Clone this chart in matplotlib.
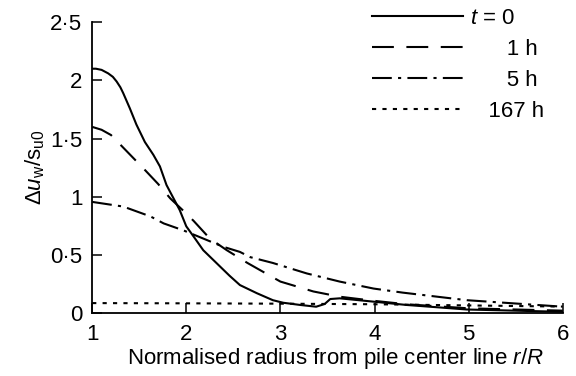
import numpy as np
import matplotlib.pyplot as plt
from matplotlib.ticker import FuncFormatter

plt.rcParams['font.family'] = ['Liberation Sans', 'DejaVu Sans']
plt.rcParams['mathtext.fontset'] = 'custom'
plt.rcParams['mathtext.rm'] = 'Liberation Sans'
plt.rcParams['mathtext.it'] = 'Liberation Sans:italic'

# values
r_t0 = [1.0, 1.04, 1.10, 1.17, 1.22, 1.26, 1.30, 1.33, 1.40, 1.47, 1.56, 1.65, 1.72, 1.79, 1.93, 2.0, 2.08, 2.18,
        2.32, 2.46, 2.57, 2.75, 2.92, 3.03, 3.21, 3.38, 3.47, 3.53, 3.63, 3.92, 4.34, 4.98, 6.0]
u_t0 = [2.10, 2.10, 2.09, 2.06, 2.03, 1.99, 1.94, 1.89, 1.76, 1.62, 1.47, 1.36, 1.26, 1.10, 0.885, 0.745, 0.655, 0.54,
        0.43, 0.32, 0.24, 0.17, 0.11, 0.088, 0.069, 0.054, 0.077, 0.12, 0.126, 0.103, 0.069, 0.03, 0.01]

r_1h = [1.0, 1.1, 1.2, 1.38, 1.56, 1.70, 1.83, 2.0, 2.08, 2.25, 2.43, 2.65, 2.89, 3.0, 3.35, 3.63, 3.99, 4.34, 5.0, 6.0]
u_1h = [1.60, 1.575, 1.53, 1.38, 1.23, 1.11, 0.985, 0.855, 0.79, 0.64, 0.54, 0.43, 0.32, 0.27, 0.185, 0.14, 0.105, 0.075, 0.04, 0.02]

r_5h = [1.0, 1.33, 1.62, 1.76, 1.97, 2.18, 2.39, 2.57, 2.68, 2.92, 3.28, 3.63, 3.99, 4.3, 4.98, 6.0]
u_5h = [0.955, 0.915, 0.83, 0.77, 0.71, 0.64, 0.57, 0.525, 0.48, 0.43, 0.34, 0.27, 0.21, 0.175, 0.11, 0.054]

r_167h = [1.0, 2.0, 3.0, 4.0, 5.0, 6.0]
u_167h = [0.085, 0.083, 0.08, 0.075, 0.065, 0.055]

labels = ['$t$ = 0', '      1 h', '      5 h', '   167 h']

fig = plt.figure(figsize=(5.76, 3.76), dpi=100)
ax = fig.add_axes([0.160, 0.1676, 0.817, 0.7734])

lw = 1.5
ax.plot(r_t0, u_t0, color='black', lw=lw, label=labels[0])
ax.plot(r_1h, u_1h, color='black', lw=lw, dashes=(10.5, 6), label=labels[1])
ax.plot(r_5h, u_5h, color='black', lw=lw, dashes=(9.5, 3, 1.5, 3), label=labels[2])
ax.plot(r_167h, u_167h, color='black', lw=lw, dashes=(2, 3), label=labels[3])

ax.set_xlim(1, 6)
ax.set_ylim(0, 2.5)
ax.set_xticks([1, 2, 3, 4, 5, 6])
ax.set_yticks([0, 0.5, 1, 1.5, 2, 2.5])
ax.yaxis.set_major_formatter(FuncFormatter(lambda v, p: ('%g' % v).replace('.', '\u00b7')))

for s in ['top', 'right']:
    ax.spines[s].set_visible(False)
for s in ['left', 'bottom']:
    ax.spines[s].set_linewidth(1.3)

ax.tick_params(axis='both', direction='in', length=7, width=1.1, labelsize=16)
ax.tick_params(axis='x', pad=8)
ax.tick_params(axis='y', pad=7)

ax.set_xlabel('Normalised radius from pile center line $r/R$', fontsize=16, labelpad=3)
ax.xaxis.set_label_coords(0.517, -0.115)
ax.set_ylabel(r'$\Delta \mathit{u}_{\mathrm{w}}/\mathrm{s}_{\mathrm{u0}}$', fontsize=16, labelpad=2)

ax.legend(loc='upper left', bbox_to_anchor=(0.645, 0.978), bbox_transform=fig.transFigure,
          frameon=False, fontsize=16, handlelength=4.1, handletextpad=0.35,
          labelspacing=0.45, borderaxespad=0, borderpad=0)

fig.savefig('out.png', dpi=100)
